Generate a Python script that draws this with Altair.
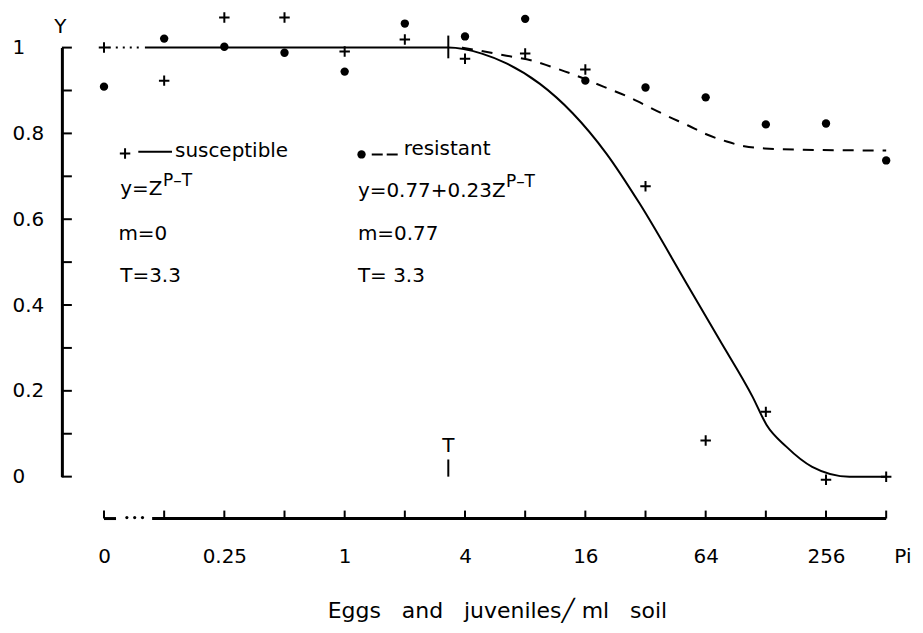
import math
import altair as alt
import pandas as pd

# ---------------- data ----------------
dose = [0, 0.125, 0.25, 0.5, 1, 2, 4, 8, 16, 32, 64, 128, 256, 512]
susceptible = [1.00, 0.923, 1.07, 1.07, 0.991, 1.019, 0.974, 0.986, 0.949, 0.677, 0.084, 0.151, -0.007, 0.0]
resistant = [0.909, 1.021, 1.002, 0.988, 0.944, 1.056, 1.026, 1.067, 0.923, 0.907, 0.884, 0.821, 0.823, 0.737]

# fitted curves (x as log2 of Pi)
fit_sus_log2P = [-3.32, 1.72, 2.28, 2.69, 3.24, 3.79, 4.35, 4.90, 5.68, 6.23, 6.78, 7.01, 7.34, 7.77, 8.39, 9.0]
fit_sus_y = [1.0, 1.0, 0.986, 0.963, 0.916, 0.847, 0.753, 0.637, 0.451, 0.319, 0.186, 0.121, 0.070, 0.023, 0.0, 0.0]
fit_res_log2P = [1.95, 2.16, 2.69, 3.11, 3.42, 3.75, 4.30, 4.70, 5.08, 5.37, 5.70, 6.01, 6.35, 6.64, 6.98, 7.28, 9.0]
fit_res_y = [1.0, 0.995, 0.981, 0.970, 0.956, 0.940, 0.909, 0.886, 0.860, 0.840, 0.819, 0.798, 0.781, 0.770, 0.765, 0.763, 0.760]

T_value = 3.3
zero_log2 = -4          # Pi = 0 is drawn at the axis break
x_tick_values = [-4, -2, 0, 2, 4, 6, 8, 9.27]
x_tick_labels = ["0", "0.25", "1", "4", "16", "64", "256", "Pi"]
x_minor_ticks = [-4, -3, -2, -1, 0, 1, 2, 3, 4, 5, 6, 7, 8, 9]
y_label_values = [0, 0.2, 0.4, 0.6, 0.8, 1]
y_minor_ticks = [0, 0.1, 0.2, 0.3, 0.4, 0.5, 0.6, 0.7, 0.8, 0.9, 1.0]

FONT = "DejaVu Sans"
FS = 20

def lg(p):
    return zero_log2 if p == 0 else math.log2(p)

T_log2 = math.log2(T_value)

pts = pd.DataFrame({"u": [lg(p) for p in dose], "sus": susceptible, "res": resistant})
sus_pts = pts[["u", "sus"]].rename(columns={"sus": "y"})
res_pts = pts[["u", "res"]].rename(columns={"res": "y"})
sus_fit = pd.DataFrame({"u": fit_sus_log2P, "y": fit_sus_y})
res_fit = pd.DataFrame({"u": fit_res_log2P, "y": fit_res_y})
break_fit = pd.DataFrame({"u": [-3.92, -3.34], "y": [1.0, 1.0]})

xscale = alt.Scale(domain=[-4.7, 9.28], nice=False, zero=False)
yscale = alt.Scale(domain=[0, 1], nice=False, zero=False)

label_expr = " : ".join(
    f"datum.value == {v} ? '{t}'" for v, t in zip(x_tick_values, x_tick_labels)
) + " : ''"

SP = "\u00a0\u00a0\u00a0"
X_TITLE = f"Eggs{SP}and{SP}juveniles\u2571\u00a0ml{SP}soil"
x_axis = alt.Axis(
    values=x_tick_values, labelExpr=label_expr, domain=False, ticks=False, tickSize=0,
    grid=False, labelPadding=80, labelBaseline="middle", labelFont=FONT, labelFontSize=FS,
    labelColor="black", labelFlush=False, labelOverlap=False,
    title=X_TITLE, titleFont=FONT, titleFontSize=22, titleFontWeight="normal", titleColor="black",
    titleX=436, titleY=141, titleBaseline="alphabetic", titleAlign="center")
y_axis = alt.Axis(
    values=y_label_values, format=".1~f", domain=True, domainColor="black", domainWidth=3,
    ticks=False, tickSize=0, grid=False, labelAlign="left", labelBaseline="middle",
    labelPadding=50, labelFont=FONT, labelFontSize=FS, labelColor="black",
    title="Y", titleAngle=0, titleX=-2, titleY=-15, titleAlign="center",
    titleBaseline="alphabetic", titleFont=FONT, titleFontSize=FS,
    titleFontWeight="normal", titleColor="black")

X = lambda: alt.X("u:Q", scale=xscale, axis=x_axis, title=X_TITLE)
Y = lambda: alt.Y("y:Q", scale=yscale, axis=y_axis, title="Y")

# inward y ticks
y_ticks = alt.Chart(pd.DataFrame({"y": y_minor_ticks})).mark_rule(color="black", strokeWidth=2).encode(
    y=Y(), x=alt.value(0), x2=alt.value(10))

# x axis line (with break) and upward ticks
x_line = alt.Chart(pd.DataFrame({"u": [-3.2, -4.0], "u2": [9.0, -3.8]})).mark_rule(
    color="black", strokeWidth=3).encode(x=X(), x2="u2:Q", y=alt.value(472))
x_ticks = alt.Chart(pd.DataFrame({"u": x_minor_ticks})).mark_rule(color="black", strokeWidth=2).encode(
    x=X(), y=alt.value(464), y2=alt.value(472))
x_dots = alt.Chart(pd.DataFrame({"u": [-3.62, -3.49, -3.36]})).mark_circle(
    color="black", opacity=1, size=10).encode(x=X(), y=alt.value(471))

# curves
sus_line = alt.Chart(sus_fit).mark_line(color="black", strokeWidth=2, interpolate="monotone").encode(
    x=X(), y=Y())
sus_break = alt.Chart(break_fit).mark_line(color="black", strokeWidth=2, strokeDash=[2, 5]).encode(
    x=X(), y=Y())
res_line = alt.Chart(res_fit).mark_line(color="black", strokeWidth=2, strokeDash=[11, 9],
                                         interpolate="monotone").encode(x=X(), y=Y())

CROSS = "M -1 0 L 1 0 M 0 -1 L 0 1"
sus_marks = alt.Chart(sus_pts).mark_point(shape=CROSS, filled=False, color="black", strokeWidth=2,
                                          size=110, opacity=1).encode(x=X(), y=Y())
res_marks = alt.Chart(res_pts).mark_circle(color="black", size=70, opacity=1).encode(x=X(), y=Y())

# T markers
t_rules = alt.Chart(pd.DataFrame({"u": [T_log2, T_log2], "y": [0.975, 0.0], "y2": [1.028, 0.04]})).mark_rule(
    color="black", strokeWidth=2).encode(x=X(), y=Y(), y2="y2:Q")
t_text = alt.Chart(pd.DataFrame({"u": [T_log2], "y": [0.058], "t": ["T"]})).mark_text(
    font=FONT, fontSize=FS, color="black", align="center", baseline="alphabetic").encode(
    x=X(), y=Y(), text="t:N")

# legend / annotation block
leg_sym_plus = alt.Chart(pd.DataFrame({"u": [-3.65], "y": [0.753]})).mark_point(
    shape=CROSS, filled=False, color="black", strokeWidth=2, size=110, opacity=1).encode(x=X(), y=Y())
leg_sym_dot = alt.Chart(pd.DataFrame({"u": [0.28], "y": [0.751]})).mark_circle(
    color="black", size=70, opacity=1).encode(x=X(), y=Y())
leg_solid = alt.Chart(pd.DataFrame({"u": [-3.43], "u2": [-2.87], "y": [0.757]})).mark_rule(
    color="black", strokeWidth=2).encode(x=X(), x2="u2:Q", y=Y())
leg_dash = alt.Chart(pd.DataFrame({"u": [0.45], "u2": [0.91], "y": [0.751]})).mark_rule(
    color="black", strokeWidth=2, strokeDash=[11, 4]).encode(x=X(), x2="u2:Q", y=Y())

ann = pd.DataFrame({
    "u": [-2.82, -3.73, -3.76, -3.73, 0.98, 0.22, 0.22, 0.22],
    "y": [0.744, 0.656, 0.551, 0.453, 0.749, 0.651, 0.551, 0.453],
    "t": ["susceptible", "y=Z", "m=0", "T=3.3", "resistant", "y=0.77+0.23Z", "m=0.77", "T= 3.3"],
})
ann_text = alt.Chart(ann).mark_text(font=FONT, fontSize=FS, color="black", align="left",
                                    baseline="alphabetic").encode(x=X(), y=Y(), text="t:N")
sup = pd.DataFrame({"u": [-3.02, 2.68], "y": [0.677, 0.674], "t": ["P\u2013T", "P\u2013T"]})
sup_text = alt.Chart(sup).mark_text(font=FONT, fontSize=17, color="black", align="left",
                                    baseline="alphabetic").encode(x=X(), y=Y(), text="t:N")

chart = alt.layer(
    y_ticks, x_line, x_ticks, x_dots, sus_break, sus_line, res_line,
    sus_marks, res_marks, t_rules, t_text, leg_sym_plus, leg_sym_dot, leg_solid, leg_dash,
    ann_text, sup_text,
).properties(
    width=843, height=430,
    padding={"left": 54, "top": 39, "right": 12, "bottom": 146},
    autosize="none", background="white",
).configure_view(stroke=None)

chart.save("out.html", embed_options={"renderer": "svg", "actions": False})
